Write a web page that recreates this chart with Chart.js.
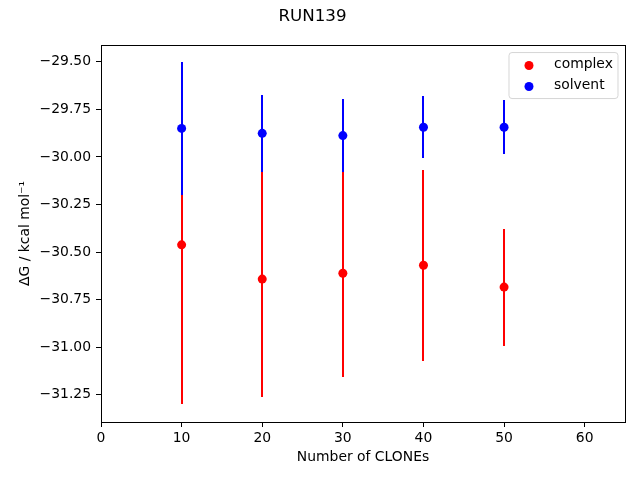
<!DOCTYPE html>
<html lang="en">
<head>
    <meta charset="UTF-8">
    <title>RUN139</title>
    <script src="https://cdn.jsdelivr.net/npm/chart.js"></script>
    <style>
        html, body { margin: 0; padding: 0; background: #fff; }
    </style>
</head>
<body>
    <canvas id="dgChart" width="640" height="480"></canvas>
    <script>
        // values
        const clones = [10, 20, 30, 40, 50];
        const complexDG = [-30.462, -30.642, -30.611, -30.569, -30.684];
        const complexErr = [0.838, 0.622, 0.548, 0.501, 0.307];
        const solventDG = [-29.850, -29.876, -29.888, -29.844, -29.844];
        const solventErr = [0.348, 0.202, 0.190, 0.164, 0.143];
        const xTicks = [0, 10, 20, 30, 40, 50, 60];
        const yTicks = [-29.50, -29.75, -30.00, -30.25, -30.50, -30.75, -31.00, -31.25];

        const font = 'DejaVu Sans';
        const toPoints = (xs, ys, errs) => xs.map((x, i) => ({ x: x, y: ys[i], err: errs[i] }));

        // vertical error bars, drawn under the markers (complex first, then solvent)
        const errorBars = {
            id: 'errorBars',
            beforeDatasetsDraw(chart) {
                const ctx = chart.ctx;
                const xs = chart.scales.x, ys = chart.scales.y;
                const area = chart.chartArea;
                ctx.save();
                ctx.beginPath();
                ctx.rect(area.left, area.top, area.right - area.left, area.bottom - area.top);
                ctx.clip();
                chart.data.datasets.forEach(ds => {
                    ctx.strokeStyle = ds.backgroundColor;
                    ctx.lineWidth = 2;
                    ds.data.forEach(p => {
                        const px = Math.round(xs.getPixelForValue(p.x)); // snap so the bar stays crisp
                        ctx.beginPath();
                        ctx.moveTo(px, Math.round(ys.getPixelForValue(p.y + p.err)));
                        ctx.lineTo(px, Math.round(ys.getPixelForValue(p.y - p.err)));
                        ctx.stroke();
                    });
                });
                ctx.restore();
            }
        };

        // full box around the axes + matplotlib-like legend in the upper right
        const frameAndLegend = {
            id: 'frameAndLegend',
            afterDraw(chart) {
                const ctx = chart.ctx;
                const a = chart.chartArea;
                ctx.save();
                ctx.strokeStyle = '#000';
                ctx.lineWidth = 1;
                ctx.strokeRect(Math.round(a.left) + 0.5, Math.round(a.top) + 0.5,
                    Math.round(a.right - a.left), Math.round(a.bottom - a.top));

                const w = 109, h = 46;
                const bx = a.right - 7 - w, by = a.top + 7.5;
                ctx.beginPath();
                ctx.roundRect(bx, by, w, h, 3);
                ctx.fillStyle = 'rgba(255,255,255,0.8)';
                ctx.fill();
                ctx.strokeStyle = 'rgba(204,204,204,0.8)';
                ctx.stroke();

                ctx.font = '13.9px "' + font + '"';
                ctx.textBaseline = 'middle';
                ctx.textAlign = 'left';
                chart.data.datasets.forEach((ds, i) => {
                    const cy = by + 13 + i * 21;
                    ctx.beginPath();
                    ctx.arc(bx + 20, cy, 4.5, 0, Math.PI * 2);
                    ctx.fillStyle = ds.backgroundColor;
                    ctx.fill();
                    ctx.fillStyle = '#000';
                    ctx.fillText(ds.label, bx + 45, cy - 1.5);
                });
                ctx.restore();
            }
        };

        const fmt = v => (v < 0 ? '\u2212' : '') + Math.abs(v).toFixed(2);

        new Chart(document.getElementById('dgChart').getContext('2d'), {
            type: 'scatter',
            data: {
                datasets: [
                    {
                        label: 'complex',
                        data: toPoints(clones, complexDG, complexErr),
                        backgroundColor: '#ff0000',
                        borderWidth: 0,
                        pointRadius: 4.5,
                        pointHoverRadius: 4.5
                    },
                    {
                        label: 'solvent',
                        data: toPoints(clones, solventDG, solventErr),
                        backgroundColor: '#0000ff',
                        borderWidth: 0,
                        pointRadius: 4.5,
                        pointHoverRadius: 4.5
                    }
                ]
            },
            options: {
                responsive: false,
                animation: false,
                devicePixelRatio: 1,
                layout: { padding: { left: 0, right: 15, top: 0, bottom: 0 } },
                plugins: {
                    legend: { display: false },
                    tooltip: { enabled: false },
                    title: {
                        display: true,
                        text: 'RUN139',
                        color: '#000',
                        font: { family: font, size: 16.7, weight: 'normal' },
                        padding: { top: 6.3, bottom: 18.7 }
                    }
                },
                scales: {
                    x: {
                        type: 'linear',
                        min: 0,
                        max: 65,
                        afterBuildTicks: s => { s.ticks = xTicks.map(v => ({ value: v })); },
                        afterFit: s => { s.height = 58; },
                        ticks: {
                            color: '#000',
                            padding: 3,
                            maxRotation: 0,
                            font: { family: font, size: 13.9 },
                            callback: v => String(v)
                        },
                        grid: { drawOnChartArea: false, drawTicks: true, tickLength: 5, tickColor: '#000' },
                        border: { display: true, color: '#000' },
                        title: {
                            display: true,
                            text: 'Number of CLONEs',
                            color: '#000',
                            font: { family: font, size: 13.9 },
                            padding: { top: 0, bottom: 14.3 }
                        }
                    },
                    y: {
                        type: 'linear',
                        min: -31.393,
                        max: -29.412,
                        afterBuildTicks: s => { s.ticks = yTicks.map(v => ({ value: v })); },
                        afterFit: s => { s.width = 101; },
                        ticks: {
                            color: '#000',
                            padding: 5,
                            font: { family: font, size: 13.9 },
                            callback: v => fmt(v)
                        },
                        grid: { drawOnChartArea: false, drawTicks: true, tickLength: 5, tickColor: '#000' },
                        border: { display: true, color: '#000' },
                        title: {
                            display: true,
                            text: '\u0394G / kcal mol\u207B\u00B9',
                            color: '#000',
                            font: { family: font, size: 13.9 },
                            padding: { top: 16.6, bottom: 0 }
                        }
                    }
                }
            },
            plugins: [errorBars, frameAndLegend]
        });
    </script>
</body>
</html>
